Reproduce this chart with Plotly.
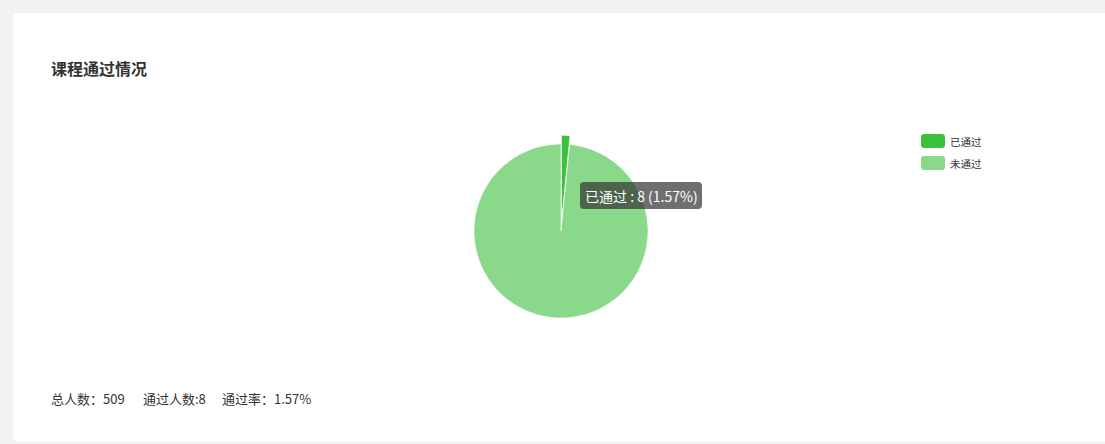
import plotly.graph_objects as go

# ---- data ----
title_text = "课程通过情况"
labels = ["已通过", "未通过"]
values = [8, 501]
colors = ["#3cc13c", "#8ad88a"]
total = sum(values)
passed = values[0]
rate = passed / total * 100

W, H = 1105, 444
FONT = "Noto Sans CJK SC, Microsoft YaHei, sans-serif"


def px(x):
    return x / W


def py(y):
    return 1 - y / H


def rounded_rect(x0, y0, x1, y1, r):
    pts = [
        f"M {px(x0 + r)},{py(y0)}",
        f"L {px(x1 - r)},{py(y0)}",
        f"Q {px(x1)},{py(y0)} {px(x1)},{py(y0 + r)}",
        f"L {px(x1)},{py(y1 - r)}",
        f"Q {px(x1)},{py(y1)} {px(x1 - r)},{py(y1)}",
        f"L {px(x0 + r)},{py(y1)}",
        f"Q {px(x0)},{py(y1)} {px(x0)},{py(y1 - r)}",
        f"L {px(x0)},{py(y0 + r)}",
        f"Q {px(x0)},{py(y0)} {px(x0 + r)},{py(y0)}",
        "Z",
    ]
    return " ".join(pts)


fig = go.Figure()

pull = 0.1
r = 87
half = r * (1 + pull)
cx, cy = 561, 231
fig.add_trace(go.Pie(
    labels=labels,
    values=values,
    sort=False,
    direction="clockwise",
    rotation=0,
    pull=[pull, 0],
    marker=dict(colors=colors, line=dict(color="#ffffff", width=0.6)),
    textinfo="none",
    hoverinfo="skip",
    showlegend=False,
    domain=dict(x=[px(cx - half), px(cx + half)], y=[py(cy + half), py(cy - half)]),
))

shapes = [
    dict(type="path", xref="paper", yref="paper",
         path=rounded_rect(13, 13, 1112, 442, 5),
         fillcolor="#ffffff", line=dict(width=0), layer="below"),
]

text_font = dict(size=13, color="#333333", family=FONT)
annotations = [
    dict(text=f"<b>{title_text}</b>", x=px(49), y=py(68), xref="paper", yref="paper",
         xanchor="left", yanchor="middle", showarrow=False,
         font=dict(size=16, color="#333333", family=FONT)),
    dict(text=f"总人数：{total}", x=px(49), y=py(398), xref="paper", yref="paper",
         xanchor="left", yanchor="middle", showarrow=False, font=text_font),
    dict(text=f"通过人数:{passed}", x=px(141), y=py(398), xref="paper", yref="paper",
         xanchor="left", yanchor="middle", showarrow=False, font=text_font),
    dict(text=f"通过率：{rate:.2f}%", x=px(220), y=py(398), xref="paper", yref="paper",
         xanchor="left", yanchor="middle", showarrow=False, font=text_font),
]

shapes.append(dict(type="path", xref="paper", yref="paper",
                   path=rounded_rect(580, 182, 702, 209, 4),
                   fillcolor="rgba(50,50,50,0.7)", line=dict(width=0), layer="above"))
annotations.append(dict(
    text=f"{labels[0]} : {values[0]} ({rate:.2f}%)",
    x=px(641), y=py(195.5), xref="paper", yref="paper",
    xanchor="center", yanchor="middle", showarrow=False,
    font=dict(size=14, color="#ffffff", family=FONT)))

for i, (lab, col) in enumerate(zip(labels, colors)):
    yc = 141 + i * 22
    shapes.append(dict(type="path", xref="paper", yref="paper",
                       path=rounded_rect(921, yc - 7, 945, yc + 7, 3),
                       fillcolor=col, line=dict(width=0), layer="above"))
    annotations.append(dict(text=lab, x=px(948), y=py(yc), xref="paper", yref="paper",
                            xanchor="left", yanchor="middle", showarrow=False,
                            font=dict(size=10.5, color="#333333", family=FONT)))

fig.update_layout(
    width=W, height=H, autosize=False,
    margin=dict(l=0, r=0, t=0, b=0),
    paper_bgcolor="#f2f2f2",
    plot_bgcolor="#f2f2f2",
    shapes=shapes,
    annotations=annotations,
    font=dict(family=FONT),
)

fig.write_html(
    "out.html",
    config={"displayModeBar": False},
    post_script="document.body.style.margin='0';document.body.style.padding='0';"
                "document.body.style.background='#f2f2f2';",
)
